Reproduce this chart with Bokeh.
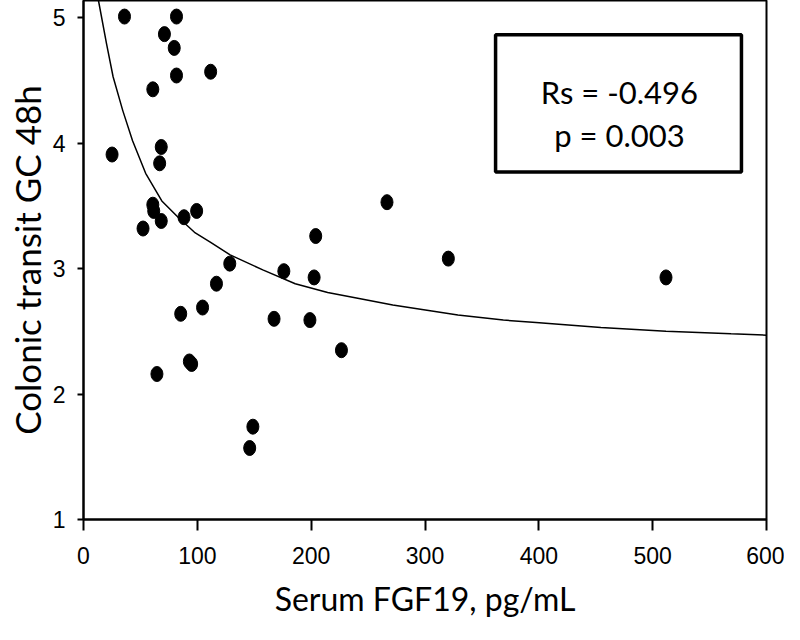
from bokeh.plotting import figure
from bokeh.models import Range1d, FixedTicker, BoxAnnotation, Label, Title
from bokeh.embed import file_html
from bokeh.resources import INLINE

# Serum FGF19 (pg/mL) vs colonic transit GC 48h
fgf19 = [25.1, 36, 81.7, 71.1, 79.7, 81.7, 111.7, 60.9, 68.3, 66.9, 60.9, 61.7,
         52.3, 68.3, 88.3, 99.4, 128.5, 116.8, 104.6, 85.4, 176, 204, 202.6, 266.6,
         320.5, 511.7, 167.4, 198.9, 226.6, 93, 95, 64.5, 148.8, 146]
gc48 = [3.91, 5.01, 5.01, 4.87, 4.76, 4.54, 4.57, 4.43, 3.97, 3.84, 3.51, 3.46,
        3.32, 3.38, 3.41, 3.46, 3.04, 2.88, 2.69, 2.64, 2.98, 3.26, 2.93, 3.53,
        3.08, 2.93, 2.60, 2.59, 2.35, 2.26, 2.24, 2.16, 1.74, 1.57]

# fitted trend curve
fit_x = [13.1, 20.3, 26.0, 34.5, 43.1, 54.6, 68.8, 83.1, 97.5, 111.7, 128.8, 157.5,
         186, 214.5, 243.2, 271.7, 300.3, 328.9, 368.8, 397.5, 426, 454.5, 511.7,
         568.9, 600]
fit_y = [5.14, 4.79, 4.53, 4.26, 4.02, 3.76, 3.54, 3.41, 3.29, 3.21, 3.11, 2.99,
         2.88, 2.81, 2.76, 2.71, 2.67, 2.63, 2.59, 2.57, 2.55, 2.53, 2.50,
         2.48, 2.47]

x_ticks = [0, 100, 200, 300, 400, 500, 600]
y_ticks = [1, 2, 3, 4, 5]
stats_lines = ["Rs = -0.496", "p = 0.003"]
x_title = "Serum FGF19, pg/mL"
y_title = "Colonic transit GC 48h"

p = figure(width=784, height=624, output_backend="svg", toolbar_location=None,
           x_range=Range1d(0, 600), y_range=Range1d(1, 5.138),
           min_border_left=83, min_border_right=18, min_border_top=0,
           min_border_bottom=105)
p.background_fill_color = "white"
p.border_fill_color = "white"
p.outline_line_color = "black"
p.outline_line_width = 2
p.grid.visible = False

tick_font = "Liberation Sans"
for ax in (p.xaxis[0], p.yaxis[0]):
    ax.axis_line_width = 2
    ax.axis_line_color = "black"
    ax.major_tick_line_width = 2
    ax.major_tick_line_color = "black"
    ax.major_tick_in = 0
    ax.minor_tick_line_color = None
    ax.major_label_text_font = tick_font
    ax.major_label_text_font_size = "23px"
    ax.major_label_text_color = "black"

p.xaxis.ticker = FixedTicker(ticks=x_ticks)
p.yaxis.ticker = FixedTicker(ticks=y_ticks)
p.xaxis.major_tick_out = 11
p.yaxis.major_tick_out = 6
p.xaxis.major_label_standoff = 16
p.yaxis.major_label_standoff = 12

p.xaxis.axis_label = x_title
p.xaxis.axis_label_text_font = "Lato"
p.xaxis.axis_label_text_font_style = "normal"
p.xaxis.axis_label_text_font_size = "32px"
p.xaxis.axis_label_text_color = "black"
p.xaxis.axis_label_standoff = 12

p.add_layout(Title(text=y_title, align="center", offset=-54, standoff=0,
                   vertical_align="top",
                   text_font="Lato", text_font_size="35px",
                   text_font_style="normal", text_color="black"), "left")

p.line(fit_x, fit_y, line_color="black", line_width=1.5)
p.ellipse(x=fgf19, y=gc48, width=12, height=15, width_units="screen",
          height_units="screen", fill_color="black", line_color="black")

box = BoxAnnotation(left=362, right=578, top=4.865, bottom=3.77,
                    fill_alpha=0, line_color="black", line_alpha=1,
                    line_width=3.5)
p.add_layout(box)
p.add_layout(Label(x=470.8, y=4.405, text=stats_lines[0], text_align="center",
                   text_baseline="alphabetic", text_font="Lato",
                   text_font_size="31px", text_color="black"))
p.add_layout(Label(x=470.8, y=4.065, text=stats_lines[1], text_align="center",
                   text_baseline="alphabetic", text_font="Lato",
                   text_font_size="31px", text_color="black"))

open("out.html", "w").write(file_html(p, INLINE))
